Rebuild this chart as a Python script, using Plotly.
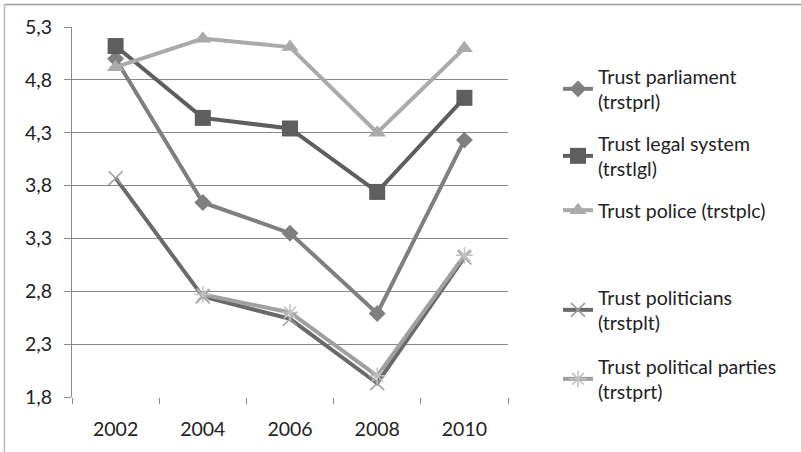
import plotly.graph_objects as go

years = ["2002", "2004", "2006", "2008", "2010"]
trust_parliament = [5.00, 3.64, 3.35, 2.59, 4.23]
trust_legal = [5.12, 4.44, 4.34, 3.74, 4.63]
trust_police = [4.92, 5.19, 5.11, 4.30, 5.10]
trust_politicians = [3.87, 2.75, 2.54, 1.93, 3.12]
trust_parties = [None, 2.77, 2.60, 2.00, 3.14]

names = [
    "Trust parliament<br>(trstprl)",
    "Trust legal system<br>(trstlgl)",
    "Trust police (trstplc)",
    "Trust politicians<br>(trstplt)",
    "Trust political parties<br>(trstprt)",
]
series = [trust_parliament, trust_legal, trust_police, trust_politicians, trust_parties]
colors = ["#7f7f7f", "#5e5e5e", "#aaaaaa", "#6a6a6a", "#a0a0a0"]
marker_colors = ["#7f7f7f", "#5e5e5e", "#aaaaaa", "#9a9a9a", "#c0c0c0"]
symbols = ["diamond", "square", "triangle-up", "x-thin-open", "asterisk-open"]
msizes = [13, 16, 15, 14, 14]
mline = [0, 0, 0, 1.5, 1.5]

FONT = "Lato"
FS = 19.5
L, R, T, B = 72, 293, 27, 55
W, H = 801, 452
pw = W - L - R
ph = H - T - B

# legend text first-line centers (px)
leg_y = [77, 144, 211, 298, 367]

fig = go.Figure()
for i, (nm, ys) in enumerate(zip(names, series)):
    lg = "legend" if i == 0 else f"legend{i+1}"
    fig.add_trace(go.Scatter(
        x=years, y=ys, name=nm, mode="lines+markers",
        line=dict(color=colors[i], width=4),
        marker=dict(symbol=symbols[i], size=msizes[i], color=marker_colors[i],
                    line=dict(width=mline[i], color=marker_colors[i])),
        legend=lg, connectgaps=False,
    ))

layout_legends = {}
for i, yc in enumerate(leg_y):
    key = "legend" if i == 0 else f"legend{i+1}"
    layout_legends[key] = dict(
        x=(558 - L) / pw, xanchor="left",
        y=(H - B - (yc - 20)) / ph, yanchor="top",
        font=dict(family=FONT, size=FS, color="#222222"),
        bgcolor="rgba(0,0,0,0)", borderwidth=0,
    )

fig.update_layout(
    width=W, height=H,
    margin=dict(l=L, r=R, t=T, b=B),
    paper_bgcolor="white", plot_bgcolor="white",
    separators=",.",
    font=dict(family=FONT, size=FS, color="#222222"),
    showlegend=True,
    xaxis=dict(
        type="category", tickson="boundaries", ticks="outside", ticklen=6,
        tickcolor="#888888", showgrid=False, showline=False,
        range=[-0.5, 4.5], zeroline=False,
        tickfont=dict(family=FONT, size=FS, color="#222222"),
        ticklabelstandoff=18,
    ),
    yaxis=dict(
        range=[1.8, 5.3], tick0=1.8, dtick=0.5, tickformat=".1f",
        showgrid=True, gridcolor="#888888", gridwidth=1,
        showline=True, linecolor="#888888", linewidth=1,
        ticks="outside", ticklen=7, tickcolor="#888888",
        zeroline=False, ticklabelstandoff=8,
        tickfont=dict(family=FONT, size=FS, color="#222222"),
    ),
    shapes=[
        dict(type="line", xref="paper", yref="paper",
             x0=(4.5 - L) / pw, x1=(W + 5 - L) / pw,
             y0=(H - B - 4.5) / ph, y1=(H - B - 4.5) / ph,
             line=dict(color="#999999", width=1.5), layer="below"),
        dict(type="line", xref="paper", yref="paper",
             x0=(4.5 - L) / pw, x1=(4.5 - L) / pw,
             y0=(H - B - 4.5) / ph, y1=(H - B - H - 5) / ph,
             line=dict(color="#bbbbbb", width=1.5), layer="below"),
    ],
    **layout_legends,
)

fig.write_html("out.html")
